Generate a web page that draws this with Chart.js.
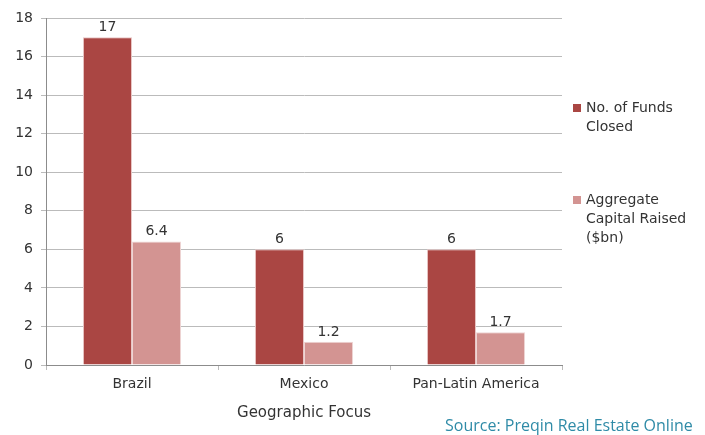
<!DOCTYPE html>
<html><head><meta charset="utf-8">
<script src="https://cdn.jsdelivr.net/npm/chart.js@4.4.1/dist/chart.umd.min.js"></script>
<style>
html,body{margin:0;padding:0;background:#fff;}
#wrap{position:relative;width:705px;height:435px;}
#source{position:absolute;left:445px;top:414px;font-family:"Open Sans",sans-serif;font-size:16px;color:#2F8BA7;white-space:nowrap;}
</style></head>
<body>
<div id="wrap"><canvas id="c" width="705" height="435"></canvas>
<div id="source">Source: Preqin Real Estate Online</div></div>
<script>
const categories = ["Brazil", "Mexico", "Pan-Latin America"];
const fundsClosed = [17, 6, 6];
const capitalRaised = [6.4, 1.2, 1.7];
const fundsLabel = ["No. of Funds", "Closed"];
const capitalLabel = ["Aggregate", "Capital Raised", "($bn)"];
const yTicks = [0, 2, 4, 6, 8, 10, 12, 14, 16, 18];
const xTitle = "Geographic Focus";

const FONT = "'DejaVu Sans', sans-serif";
const TXT = "#333333";
const C1 = "#AA4643", C2 = "#D39492";

const dataLabels = {
  id: 'dataLabels',
  afterDatasetsDraw(chart) {
    const ctx = chart.ctx;
    ctx.save();
    ctx.font = "14px " + FONT;
    ctx.fillStyle = TXT;
    ctx.textAlign = "center";
    ctx.textBaseline = "bottom";
    chart.data.datasets.forEach((ds, i) => {
      chart.getDatasetMeta(i).data.forEach((bar, j) => {
        ctx.fillText(String(ds.data[j]), bar.x, bar.y - 3);
      });
    });
    ctx.restore();
  }
};

const sideLegend = {
  id: 'sideLegend',
  afterDraw(chart) {
    const ctx = chart.ctx;
    const x0 = chart.chartArea.right + 11;
    ctx.save();
    ctx.font = "14px " + FONT;
    ctx.textBaseline = "middle";
    ctx.textAlign = "left";
    chart.data.datasets.forEach((ds, i) => {
      const top = i === 0 ? 108 : 200;
      ctx.fillStyle = ds.backgroundColor;
      ctx.fillRect(x0, top - 4, 8, 8);
      ctx.fillStyle = TXT;
      ds.legendLines.forEach((t, k) => ctx.fillText(t, x0 + 13, top + k * 19));
    });
    ctx.restore();
  }
};

new Chart(document.getElementById('c'), {
  type: 'bar',
  data: {
    labels: categories,
    datasets: [
      {label: fundsLabel.join(' '), legendLines: fundsLabel, data: fundsClosed, backgroundColor: C1, borderColor: "#E8C5C4", borderWidth: {top:1,left:1,right:1,bottom:0}, categoryPercentage: 0.57, barPercentage: 1},
      {label: capitalLabel.join(' '), legendLines: capitalLabel, data: capitalRaised, backgroundColor: C2, borderColor: "#EED5D4", borderWidth: {top:1,left:1,right:1,bottom:0}, categoryPercentage: 0.57, barPercentage: 1}
    ]
  },
  options: {
    responsive: false,
    animation: false,
    devicePixelRatio: 1,
    layout: {padding: {left: 0, right: 143, top: 18, bottom: 0}},
    plugins: {legend: {display: false}, tooltip: {enabled: false}},
    scales: {
      x: {
        afterFit(s) { s.height = 70; },
        grid: {offset: true, drawOnChartArea: false, drawTicks: true, tickLength: 5, color: "#BBBBBB", tickColor: "#BBBBBB"},
        border: {display: true, color: "#8C8C8C", width: 1},
        ticks: {font: {family: FONT, size: 14}, color: TXT, padding: 6},
        title: {display: true, text: xTitle, font: {family: FONT, size: 15}, color: TXT, padding: {top: 12, bottom: 13}}
      },
      y: {
        min: 0, max: 18,
        afterFit(s) { s.width = 46; },
        afterBuildTicks(s) { s.ticks = yTicks.map(v => ({value: v})); },
        grid: {color: "#BBBBBB", drawTicks: true, tickLength: 5, tickColor: "#BBBBBB"},
        border: {display: true, color: "#8C8C8C", width: 1},
        ticks: {font: {family: FONT, size: 14}, color: TXT, padding: 8}
      }
    }
  },
  plugins: [dataLabels, sideLegend]
});
</script>
</body></html>
